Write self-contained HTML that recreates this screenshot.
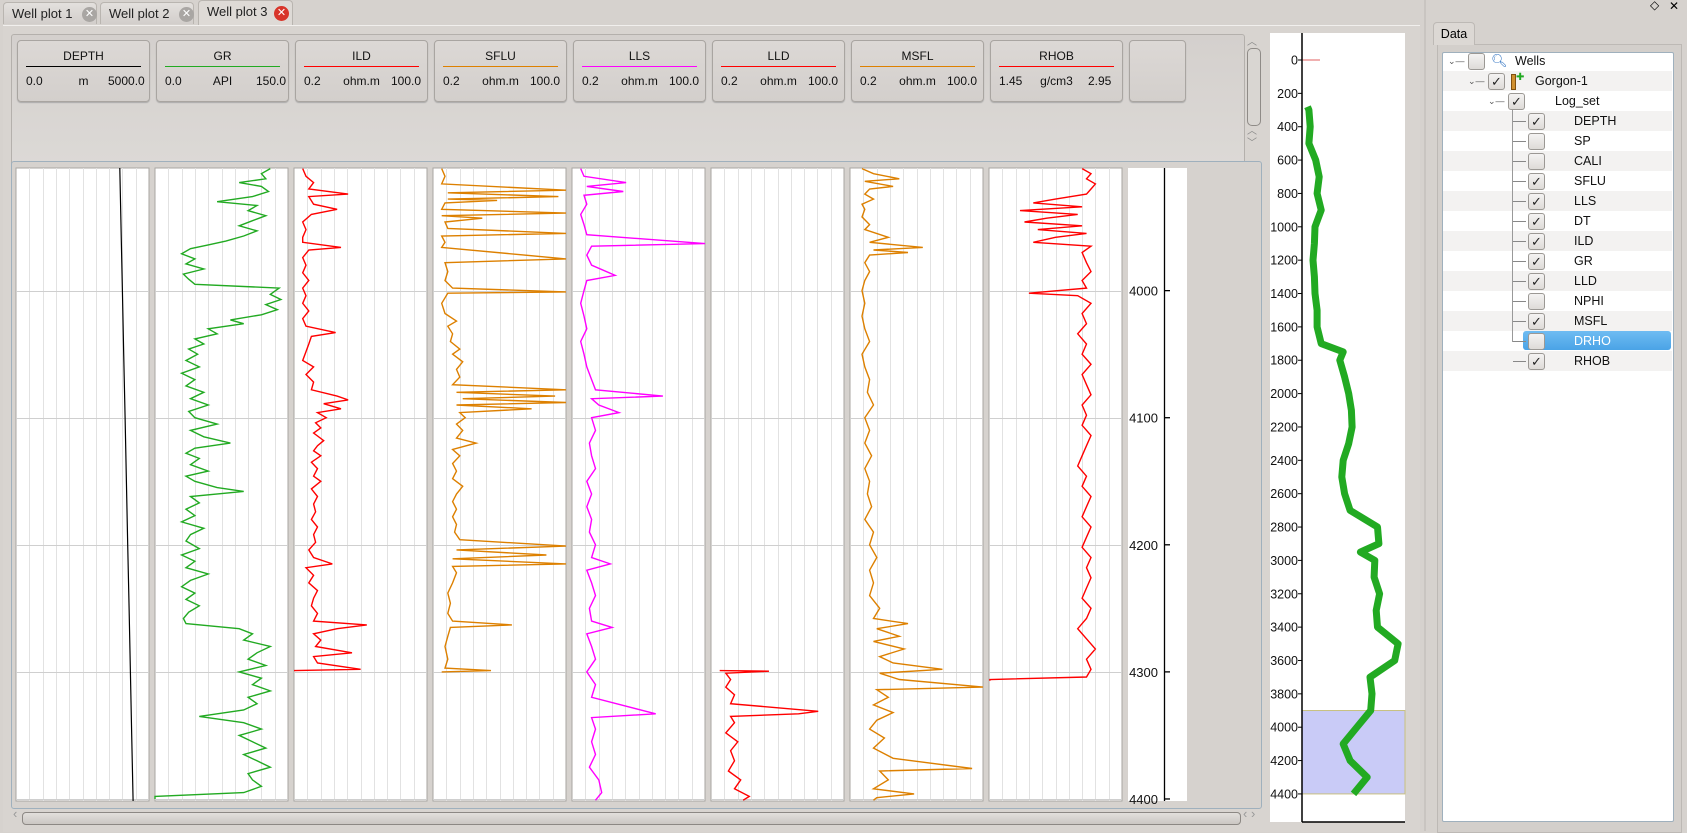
<!DOCTYPE html>
<html><head><meta charset="utf-8"><style>
body{margin:0;width:1687px;height:831px;overflow:hidden;background:#d6d2ce;font-family:"Liberation Sans","DejaVu Sans",sans-serif;position:relative}
.abs{position:absolute}
.tab{position:absolute;top:2px;height:22px;border:1px solid #b9b5b0;border-bottom:none;border-radius:4px 4px 0 0;background:linear-gradient(#e3e0dd,#d2cecb);font-size:13px;color:#222;line-height:22px;padding-left:8px;box-sizing:border-box}
.tab.active{background:#dedad6;top:0;height:26px}
.x{position:absolute;top:4px;width:15px;height:15px;border-radius:50%;background:#a9a6a3;color:#fff;font-size:11px;line-height:15px;text-align:center;font-weight:bold}
.card{position:absolute;top:40px;width:131px;height:60px;border:1px solid #a9a5a1;border-radius:4px;background:linear-gradient(#dcd8d5,#d3cfcc);box-shadow:0 1px 1px #aaa;font-size:12px;color:#111;overflow:hidden}
.card .t{position:absolute;top:8px;left:0;width:100%;text-align:center;font-size:12px}
.card .ln{position:absolute;top:25px;left:8px;right:8px;height:1px}
.card .v{position:absolute;top:33px}
.row{position:absolute;left:1443px;width:229px;height:20px;font-size:12.5px;color:#111;line-height:20px}
.cb{position:absolute;width:15px;height:15px;border:1px solid #9b9894;border-radius:3px;background:linear-gradient(#f4f3f2,#dedbd8);top:2px;font-size:13px;line-height:15px;text-align:center;color:#222}
</style></head><body>
<div class="tab" style="left:3px;width:94px">Well plot 1<div class="x" style="left:78px">✕</div></div>
<div class="tab" style="left:100px;width:94px">Well plot 2<div class="x" style="left:78px">✕</div></div>
<div class="tab active" style="left:198px;width:95px">Well plot 3<div class="x" style="left:75px;top:5px;background:#d8352a">✕</div></div>
<div class="abs" style="left:3px;top:25px;width:1417px;height:806px;border-top:1px solid #f1efed;background:#d8d4d0"></div>
<div class="abs" style="left:11px;top:34px;width:1232px;height:130px;border:1px solid #b4b0ac;border-radius:3px;background:linear-gradient(#d4d0cd,#dcd9d6)"></div>
<div id="cards"></div>
<div class="abs" style="left:1247px;top:48px;width:12px;height:76px;border:1px solid #8f8b87;border-radius:5px;background:#d9d6d2"></div>
<div class="abs" style="left:1247px;top:33px;font-size:10px;color:#888">︿</div>
<div class="abs" style="left:1247px;top:126px;font-size:10px;color:#888;line-height:12px">︿<br>﹀</div>
<div class="abs" style="left:11px;top:161px;width:1249px;height:646px;border:1px solid #9fb0bd;border-radius:3px;background:#d6d2ce"></div>
<div class="abs" style="left:22px;top:812px;width:1217px;height:11px;border:1px solid #8c8884;border-radius:4px;background:linear-gradient(#e2dfdc,#cbc7c3)"></div>
<div class="abs" style="left:1243px;top:806px;font-size:13px;color:#999">‹ ›</div>
<div class="abs" style="left:13px;top:806px;font-size:13px;color:#999">‹</div>
<div class="abs" style="left:1424px;top:0;width:2px;height:831px;background:#c9c5c1"></div>
<div class="abs" style="left:1650px;top:-2px;font-size:12px">◇</div>
<div class="abs" style="left:1669px;top:-1px;font-size:12px">✕</div>
<div class="abs" style="left:1437px;top:44px;width:243px;height:787px;border:1px solid #bdb9b5;background:#d3cfcb"></div>
<div class="abs" style="left:1433px;top:22px;width:40px;height:22px;border:1px solid #bdb9b5;border-bottom:none;border-radius:4px 4px 0 0;background:#dcd8d4;font-size:12.5px;line-height:22px;text-align:center">Data</div>
<div class="abs" style="left:1442px;top:52px;width:230px;height:768px;border:1px solid #9fb0bd;border-radius:2px;background:#fff"></div>
<div id="tree"></div>
<svg id="plot" class="abs" style="left:0;top:0" width="1687" height="831" xmlns="http://www.w3.org/2000/svg"></svg>
<script>
// ---------- Data ----------
const trackNames=["DEPTH","GR","ILD","SFLU","LLS","LLD","MSFL","RHOB"];
const trackUnits=["m","API","ohm.m","ohm.m","ohm.m","ohm.m","ohm.m","g/cm3"];
const trackMin=[0,0,0.2,0.2,0.2,0.2,0.2,1.45];
const trackMax=[5000,150,100,100,100,100,100,2.95];
const trackMinLabel=["0.0","0.0","0.2","0.2","0.2","0.2","0.2","1.45"];
const trackMaxLabel=["5000.0","150.0","100.0","100.0","100.0","100.0","100.0","2.95"];
const trackColor=["#000000","#22aa22","#ff0000","#dd8000","#ff00ff","#ff0000","#dd8000","#ff0000"];
const trackLog=[false,false,true,true,true,true,true,false];
const depthTicks=[4000,4100,4200,4300,4400];
const depthTop=3903.5, depthBottom=4401.6;

const depthDepth=[3903.5,3960,4000,4050,4100,4150,4200,4250,4300,4350,4401.6];
const depthVal=[3903.5,3960,4000,4050,4100,4150,4200,4250,4300,4350,4401.6];

const grDepth=[3904,3908,3912,3915,3918,3922,3926,3930,3933,3937,3941,3945,3949,3953,3957,3961,3964,3967,3971,3975,3979,3983,3987,3991,3995,3998,4003,4007,4011,4015,4019,4023,4026,4030,4034,4038,4042,4046,4050,4055,4060,4065,4070,4075,4080,4085,4090,4095,4100,4105,4110,4115,4120,4124,4128,4132,4137,4142,4146,4150,4155,4158,4162,4167,4172,4177,4182,4187,4192,4197,4203,4208,4213,4218,4223,4228,4233,4238,4243,4248,4253,4258,4262,4266,4270,4275,4280,4285,4290,4295,4300,4305,4310,4315,4320,4325,4330,4335,4340,4345,4350,4355,4360,4365,4370,4375,4380,4385,4390,4395,4398,4400];
const grVal=[130,120,125,95,120,128,110,70,115,105,125,110,95,115,100,80,60,40,30,45,35,55,32,38,45,140,130,142,125,138,120,85,100,60,70,45,55,38,48,35,50,30,45,35,55,40,60,38,45,70,40,55,85,45,35,50,40,60,35,45,70,100,40,50,35,45,30,55,40,35,50,30,45,35,60,40,30,45,35,50,38,32,35,95,110,100,130,115,105,125,95,120,110,130,105,115,100,50,100,120,95,110,125,100,115,130,105,110,120,100,0,0];

const ildDepth=[3904,3910,3915,3920,3924,3926,3932,3936,3940,3946,3952,3958,3962,3966,3968,3974,3980,3986,3992,3998,4004,4010,4016,4022,4028,4033,4036,4042,4048,4055,4060,4066,4072,4078,4083,4086,4089,4093,4096,4100,4104,4108,4112,4118,4122,4126,4130,4135,4140,4146,4150,4156,4162,4168,4174,4180,4186,4192,4198,4204,4210,4215,4218,4224,4230,4236,4242,4248,4254,4260,4263,4266,4270,4275,4280,4285,4288,4293,4298,4299];
const ildVal=[0.3,0.35,0.5,0.4,2.5,0.4,0.5,1.5,0.45,0.3,0.35,0.3,0.3,1.8,0.4,0.3,0.35,0.3,0.4,0.3,0.35,0.3,0.4,0.3,0.35,1.4,0.45,0.4,0.35,0.3,0.5,0.35,0.5,0.45,1.5,2.5,0.8,1.8,0.6,0.9,0.55,0.7,0.5,0.8,0.6,0.5,0.7,0.45,0.6,0.5,0.7,0.45,0.6,0.5,0.55,0.45,0.6,0.5,0.55,0.4,0.5,1.2,0.35,0.5,0.4,0.6,0.5,0.45,0.6,0.5,6,1.5,0.5,0.7,0.55,3,0.5,0.6,4.5,0.2];

const sfluDepth=[3904,3910,3916,3921,3923,3926,3928,3929,3931,3936,3939,3941,3943,3946,3951,3955,3957,3962,3966,3975,3978,3985,3992,3998,4001,4002,4010,4018,4024,4028,4034,4040,4046,4050,4056,4062,4068,4074,4078,4080,4083,4085,4088,4090,4093,4096,4100,4105,4110,4116,4120,4125,4130,4136,4142,4148,4154,4160,4166,4172,4178,4184,4190,4196,4201,4204,4208,4211,4215,4217,4222,4230,4238,4246,4254,4260,4263,4265,4272,4280,4290,4297,4299,4300];
const sfluVal=[0.3,0.35,0.3,100,0.4,70,0.4,4,0.35,0.3,100,0.3,2,0.35,0.4,100,0.3,0.35,0.3,100,0.35,0.4,0.35,0.5,100,0.4,0.3,0.35,0.6,0.4,0.5,0.45,0.7,0.5,0.8,0.6,0.7,0.5,100,0.6,60,0.8,100,0.6,20,0.7,0.9,0.6,0.8,0.6,1.5,0.5,0.7,0.5,0.6,0.5,0.8,0.6,0.5,0.6,0.5,0.6,0.55,0.7,100,0.6,40,0.5,100,0.5,0.6,0.5,0.4,0.45,0.4,0.5,8,0.45,0.4,0.35,0.4,0.35,3,0.3];

const llsDepth=[3904,3910,3915,3918,3922,3925,3932,3940,3948,3956,3963,3965,3972,3980,3988,3992,4000,4010,4020,4030,4040,4050,4060,4070,4078,4083,4085,4090,4096,4100,4110,4120,4130,4140,4150,4160,4170,4180,4190,4200,4210,4215,4220,4230,4240,4250,4260,4265,4270,4280,4290,4300,4310,4320,4333,4336,4345,4355,4365,4375,4385,4395,4401];
const llsVal=[0.3,0.35,2.5,0.4,2.2,0.35,0.4,0.3,0.35,0.4,100,0.5,0.4,0.5,1.5,0.4,0.35,0.3,0.35,0.4,0.3,0.35,0.4,0.5,0.6,14,0.5,0.7,1.8,0.5,0.6,0.45,0.5,0.6,0.4,0.5,0.4,0.5,0.45,0.6,0.5,1.2,0.4,0.5,0.6,0.45,0.5,1.3,0.4,0.5,0.6,0.4,0.6,0.5,10,0.5,0.6,0.5,0.6,0.45,0.7,0.8,0.6];

const lldDepth=[4299,4299.5,4301,4306,4312,4318,4325,4331,4333,4335,4340,4348,4355,4362,4370,4378,4385,4392,4398,4401];
const lldVal=[0.3,3,0.4,0.5,0.4,0.6,0.5,30,12,0.5,0.6,0.4,0.7,0.5,0.6,0.45,0.8,0.6,1.2,0.9];

const msflDepth=[3904,3908,3912,3914,3918,3920,3924,3928,3932,3936,3942,3948,3952,3958,3962,3966,3968,3970,3972,3978,3985,3992,4000,4010,4020,4030,4040,4050,4060,4070,4080,4090,4100,4110,4120,4130,4140,4150,4160,4170,4180,4190,4200,4210,4220,4230,4240,4250,4258,4262,4266,4272,4276,4282,4288,4293,4298,4301,4306,4312,4314,4320,4326,4332,4338,4345,4352,4360,4368,4376,4378,4385,4392,4396,4399,4401];
const msflVal=[0.35,0.6,2,0.4,1.5,0.5,0.4,0.6,0.35,0.4,0.35,0.5,0.4,1.2,0.5,6,0.6,3,0.5,0.4,0.5,0.4,0.35,0.4,0.35,0.4,0.5,0.35,0.4,0.5,0.45,0.6,0.4,0.5,0.4,0.55,0.4,0.5,0.45,0.55,0.4,0.6,0.5,0.7,0.5,0.6,0.5,0.8,0.6,3,0.7,2,0.6,2.5,0.8,1.5,15,0.8,2,100,0.7,1.2,0.6,1.5,0.7,0.5,1,0.6,1.5,60,0.8,1.2,0.6,4,0.7,0.6];

const rhobDepth=[3904,3908,3912,3916,3920,3924,3928,3931,3934,3937,3940,3943,3946,3949,3952,3955,3958,3962,3965,3970,3978,3985,3992,3998,4002,4004,4010,4018,4026,4034,4042,4050,4058,4066,4074,4082,4090,4098,4106,4114,4122,4130,4138,4146,4154,4162,4170,4178,4186,4194,4202,4210,4218,4226,4234,4242,4250,4258,4266,4274,4282,4290,4298,4304,4306,4307];
const rhobVal=[2.5,2.6,2.55,2.65,2.6,2.55,2.2,1.95,2.5,1.8,2.45,2.1,1.85,2.5,2.0,2.55,2.2,1.95,2.6,2.5,2.55,2.6,2.5,2.55,1.9,2.45,2.6,2.5,2.55,2.45,2.55,2.5,2.6,2.5,2.55,2.6,2.5,2.55,2.5,2.6,2.55,2.5,2.45,2.55,2.5,2.6,2.55,2.5,2.6,2.55,2.5,2.6,2.55,2.6,2.55,2.5,2.6,2.55,2.45,2.55,2.65,2.55,2.6,2.55,1.46,1.46];

const miniTicks=[0,200,400,600,800,1000,1200,1400,1600,1800,2000,2200,2400,2600,2800,3000,3200,3400,3600,3800,4000,4200,4400];
const miniDepth=[280,300,400,500,600,700,800,900,1000,1100,1200,1300,1400,1500,1600,1700,1750,1800,1900,2000,2100,2200,2300,2400,2500,2600,2700,2800,2900,2950,3000,3100,3200,3300,3400,3500,3600,3700,3800,3900,4000,4100,4200,4300,4400];
const miniGR=[8,10,12,10,20,25,22,28,19,18,16,18,19,22,22,28,60,55,62,68,72,73,68,60,58,62,70,110,112,85,106,105,113,108,110,140,135,99,102,100,80,60,70,95,75];
const miniHiTop=3900, miniHiBottom=4400;

// ---------- Helpers ----------
const NS="http://www.w3.org/2000/svg";
const svg=document.getElementById('plot');
function mk(tag,attrs,parent){const e=document.createElementNS(NS,tag);for(const k in attrs)e.setAttribute(k,attrs[k]);(parent||svg).appendChild(e);return e;}
const TX0=16,TPITCH=139,TW=133,TY0=168,TY1=801;
function yOf(d){return TY0+(d-depthTop)/(depthBottom-depthTop)*(TY1-TY0);}
function xOf(i,v){let f;if(trackLog[i]){f=Math.log(v/trackMin[i])/Math.log(trackMax[i]/trackMin[i]);}else{f=(v-trackMin[i])/(trackMax[i]-trackMin[i]);}f=Math.max(0,Math.min(1,f));return TX0+i*TPITCH+f*TW;}

// ---------- Header cards ----------
const cards=document.getElementById('cards');
for(let i=0;i<trackNames.length;i++){
  const c=document.createElement('div');c.className='card';c.style.left=(17+i*TPITCH)+'px';
  
  
  c.innerHTML='<div class="t">'+trackNames[i]+'</div><div class="ln" style="background:'+trackColor[i]+'"></div><div class="v" style="left:8px">'+trackMinLabel[i]+'</div><div class="v" style="left:0;width:100%;text-align:center">'+trackUnits[i]+'</div><div class="v" style="left:'+(i==0?90:i==1?99:i==7?97:95)+'px;white-space:nowrap">'+trackMaxLabel[i]+'</div>';
  cards.appendChild(c);
}
const ec=document.createElement('div');ec.className='card';ec.style.left=(17+8*TPITCH)+'px';ec.style.width='55px';


cards.appendChild(ec);

// ---------- Tracks ----------
const curves=[[depthDepth,depthVal],[grDepth,grVal],[ildDepth,ildVal],[sfluDepth,sfluVal],[llsDepth,llsVal],[lldDepth,lldVal],[msflDepth,msflVal],[rhobDepth,rhobVal]];
for(let i=0;i<8;i++){
  const x0=TX0+i*TPITCH;
  const r=mk('rect',{x:x0,y:TY0,width:TW,height:TY1-TY0,fill:'#fff',stroke:'#a8a5a2','stroke-width':1});
  
  
  for(let k=1;k<10;k++){const gx=Math.round(x0+k*TW/10)+0.5;const g=mk('line',{x1:gx,x2:gx,y1:TY0,y2:TY1,stroke:'#e2e2e2','stroke-width':1});}
  for(const d of depthTicks){const gy=Math.round(yOf(d))+0.5;if(gy<TY1-1){const h=mk('line',{x1:x0,x2:x0+TW,y1:gy,y2:gy,stroke:'#cfcfcf','stroke-width':1});}}
  const [dd,vv]=curves[i];let p='';
  for(let j=0;j<dd.length;j++){p+=(j?'L':'M')+xOf(i,vv[j]).toFixed(1)+' '+yOf(dd[j]).toFixed(1);}
  const c=mk('path',{d:p,fill:'none',stroke:trackColor[i],'stroke-width':i===0?1.2:1.4,'stroke-linejoin':'miter'});
  
  
}
// depth axis track
const at=mk('rect',{x:1128,y:TY0,width:59,height:TY1-TY0,fill:'#fff'});


const al=mk('line',{x1:1164.5,x2:1164.5,y1:TY0,y2:TY1,stroke:'#000','stroke-width':1.3});


for(const d of depthTicks){const y=yOf(d);
  const t=mk('line',{x1:1164,x2:1170,y1:y,y2:y,stroke:'#000','stroke-width':1.3});
  const tx=mk('text',{x:1158,y:y+5,'text-anchor':'end','font-size':13,'font-family':'Liberation Sans, sans-serif',fill:'#111'});tx.textContent=d;}

// ---------- Mini overview ----------
const MX0=1302,MW=103,MY0=60,MS=0.1668;
function myOf(d){return MY0+d*MS;}
function mxOf(v){return MX0+v/150*MW;}
const mb=mk('rect',{x:1270,y:33,width:135,height:789,fill:'#fff'});


const hi=mk('rect',{x:MX0,y:myOf(miniHiTop),width:MW,height:myOf(miniHiBottom)-myOf(miniHiTop),fill:'#c9cbf7',stroke:'#c8c080','stroke-width':1});


let mp='';for(let j=0;j<miniDepth.length;j++){mp+=(j?'L':'M')+mxOf(miniGR[j]).toFixed(1)+' '+myOf(miniDepth[j]).toFixed(1);}
const mc=mk('path',{d:mp,fill:'none',stroke:'#22aa22','stroke-width':7,'stroke-linejoin':'round'});


const m0=mk('line',{x1:MX0,x2:MX0+18,y1:myOf(0),y2:myOf(0),stroke:'#e06060','stroke-width':1});


const ma=mk('line',{x1:MX0,x2:MX0,y1:33,y2:822,stroke:'#000','stroke-width':1.5});


const mbx=mk('line',{x1:MX0,x2:1405,y1:822,y2:822,stroke:'#000','stroke-width':1.5});


for(const d of miniTicks){const y=myOf(d);
  const t=mk('line',{x1:MX0-4,x2:MX0,y1:y,y2:y,stroke:'#000','stroke-width':1});
  const tx=mk('text',{x:MX0-4,y:y+4.5,'text-anchor':'end','font-size':12.5,'font-family':'Liberation Sans, sans-serif',fill:'#111'});tx.textContent=d;}

// ---------- Tree ----------
const tree=document.getElementById('tree');
const treeLabels=["Wells","Gorgon-1","Log_set","DEPTH","SP","CALI","SFLU","LLS","DT","ILD","GR","LLD","NPHI","MSFL","DRHO","RHOB"];
const treeChecked=[0,1,1,1,0,0,1,1,1,1,1,1,0,1,0,1];
for(let i=0;i<treeLabels.length;i++){
  const lvl=i<3?i:3;
  const row=document.createElement('div');row.className='row';row.style.top=(51+i*20)+'px';
  if(i%2===1)row.style.background='#f3f2f1';
  
  
  const cbx=25+lvl*20;const tx=lvl===0?72:lvl===1?92:lvl===2?112:131;
  let html='';
  if(i===14)html+='<div style="position:absolute;left:80px;top:0;width:148px;height:19px;border-radius:3px;background:linear-gradient(#6fbcf2,#4aa3e6)"></div>';
  if(lvl<3)html+='<div style="position:absolute;left:'+(cbx-20)+'px;top:0;font-size:9px;color:#555">⌄—</div>';
  else html+='<div style="position:absolute;left:70px;top:10px;width:13px;height:1px;background:#888"></div>';
  html+='<div class="cb" style="left:'+cbx+'px">'+(treeChecked[i]?'✓':'')+'</div>';
  if(i===0)html+='<div style="position:absolute;left:48px;top:0;color:#2a6fc0;font-size:13px">🔍︎</div>';
  if(i===1)html+='<div style="position:absolute;left:68px;top:3px;width:3px;height:14px;background:#d09030;border:1px solid #805010"></div><div style="position:absolute;left:73px;top:-3px;color:#2a2;font-size:10px">✚</div>';
  html+='<div style="position:absolute;left:'+tx+'px;top:0;'+(i===14?'color:#fff;':'')+'">'+treeLabels[i]+'</div>';
  row.innerHTML=html;tree.appendChild(row);
}
const vl=document.createElement('div');vl.style.cssText='position:absolute;left:1512px;top:110px;width:1px;height:232px;background:#999';


tree.appendChild(vl);
</script>
</body></html>
